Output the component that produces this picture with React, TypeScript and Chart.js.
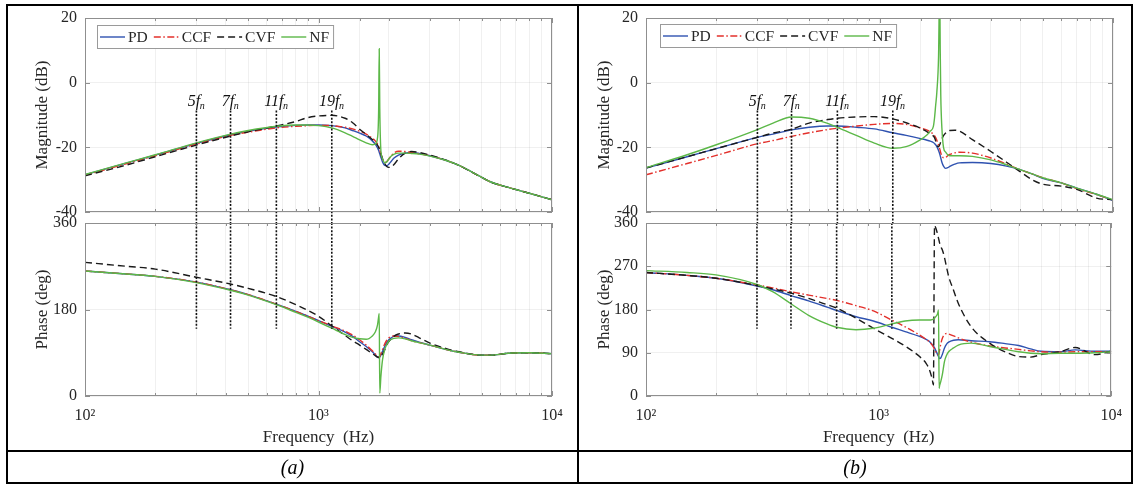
import React, { useEffect, useRef } from "react";
import { Chart, registerables } from "chart.js";

Chart.register(...registerables);

// ---------------- data ----------------
const SERIES = ["PD", "CCF", "CVF", "NF"];
const COLORS = ["#2f52b0", "#e3302b", "#1a1a1a", "#5cb848"];
const DASHES: number[][] = [[], [7, 2.5, 1.5, 2.5], [7, 4], []];

const HARMONIC_FREQ = [300, 420, 660, 1140];
const HARMONIC_ORDER = ["5", "7", "11", "19"];
const MARK_TOP_DB = -8.6;
const MARK_BOTTOM_DB = -43.4;
const MARK_BOTTOM_DEG = 140;

const X_TICK_VALUES = [100, 1000, 10000];
const X_TICK_LABELS = ["10\u00b2", "10\u00b3", "10\u2074"];
const MAG_RANGE = [-40, 20];
const MAG_STEP = 20;
const PHASE_RANGE = [0, 360];
const PHASE_STEP_A = 180;
const PHASE_STEP_B = 90;

const FREQ_A = [100, 150, 200, 300, 420, 500, 660, 800, 900, 1000,
  1140, 1300, 1400, 1500, 1600, 1700, 1750, 1790, 1810, 1820,
  1830, 1850, 1880, 1920, 1960, 2000, 2050, 2100, 2200, 2350,
  2500, 2700, 3000, 3500, 4000, 5000, 5500, 6500, 8000, 10000];

const MAG_A_PD = [-28.5, -24.9, -22.4, -18.8, -16.1, -15.0, -13.7, -13.2, -13.1, -13.1,
  -13.3, -14.0, -14.8, -15.6, -16.5, -18.0, -19.0, -20.2, -21.0, -21.5,
  -22.0, -23.1, -24.5, -25.6, -25.7, -25.2, -24.3, -23.4, -22.4, -21.8,
  -21.6, -21.9, -22.6, -24.0, -25.6, -29.3, -30.8, -32.4, -34.2, -36.2];
const MAG_A_CCF = [-28.6, -25.1, -22.6, -19.0, -16.3, -15.3, -14.0, -13.5, -13.3, -13.2,
  -13.3, -13.8, -14.3, -15.0, -15.9, -17.2, -18.0, -19.0, -19.7, -20.2,
  -20.8, -22.0, -23.5, -24.5, -24.4, -23.6, -22.6, -21.8, -21.2, -21.3,
  -21.6, -22.0, -22.6, -24.0, -25.6, -29.3, -30.8, -32.4, -34.2, -36.2];
const MAG_A_CVF = [-28.8, -25.5, -22.9, -19.3, -16.5, -15.2, -13.4, -12.0, -10.8, -10.3,
  -10.1, -11.0, -12.4, -14.4, -16.0, -17.6, -18.5, -19.3, -20.0, -20.4,
  -20.9, -22.0, -23.5, -25.0, -25.9, -26.2, -26.1, -25.4, -23.6, -21.8,
  -21.3, -21.6, -22.4, -23.9, -25.6, -29.3, -30.8, -32.4, -34.2, -36.2];
const MAG_A_NF = [-28.4, -24.8, -22.3, -18.6, -15.9, -14.8, -13.5, -13.1, -13.1, -13.3,
  -14.0, -15.5, -16.6, -17.7, -18.6, -19.2, -19.0, -17.0, -8.0, 10.5,
  -8.0, -21.0, -23.5, -24.8, -24.5, -23.6, -22.7, -22.2, -21.8, -21.8,
  -21.9, -22.1, -22.7, -24.0, -25.6, -29.3, -30.8, -32.4, -34.2, -36.2];

const PHASE_A_PD = [260, 254, 249, 237, 221, 211, 191, 176, 166, 157,
  145, 133, 124, 113, 103, 92, 86, 81, 80, 80,
  81, 85, 93, 103, 111, 117, 121, 124, 125, 122,
  117, 112, 106, 97, 91, 85, 85, 89, 90, 88];
const PHASE_A_CCF = [260, 254, 249, 237, 221, 211, 191, 176, 166, 157,
  146, 135, 127, 117, 106, 94, 88, 83, 81, 81,
  83, 88, 97, 108, 116, 121, 124, 125, 124, 120,
  115, 111, 106, 97, 91, 85, 85, 89, 90, 88];
const PHASE_A_CVF = [278, 270, 264, 247, 233, 224, 207, 190, 178, 166,
  146, 126, 115, 106, 97, 88, 84, 81, 80, 80,
  80, 82, 87, 96, 106, 113, 119, 124, 129, 131,
  129, 121, 110, 99, 92, 85, 85, 89, 90, 88];
const PHASE_A_NF = [260, 254, 249, 236, 220, 210, 190, 174, 164, 154,
  141, 128, 122, 119, 118, 125, 133, 148, 165, 172,
  6, 40, 75, 96, 107, 114, 118, 120, 121, 119,
  115, 111, 106, 97, 91, 85, 85, 89, 90, 88];

const FREQ_B = [100, 150, 200, 300, 350, 420, 500, 600, 660, 800,
  950, 1140, 1300, 1500, 1600, 1650, 1700, 1720, 1740, 1760,
  1790, 1810, 1820, 1830, 1850, 1880, 1920, 1960, 2000, 2100,
  2200, 2500, 3000, 3500, 4000, 4500, 5000, 6000, 7000, 8500,
  10000];

const MAG_B_PD = [-26.4, -22.9, -20.4, -16.9, -15.9, -14.6, -13.8, -13.4, -13.4, -13.8,
  -14.3, -15.5, -16.3, -17.3, -17.8, -18.1, -18.5, -18.8, -19.2, -19.8,
  -21.0, -22.0, -22.6, -23.3, -24.6, -25.8, -26.5, -26.3, -25.9, -25.2,
  -24.8, -24.7, -25.0, -25.8, -26.9, -28.2, -29.6, -31.0, -32.6, -34.5,
  -36.4];
const MAG_B_CCF = [-28.5, -25.0, -22.5, -18.9, -17.9, -16.6, -15.5, -14.5, -14.1, -13.4,
  -12.9, -12.6, -12.9, -14.0, -14.7, -15.2, -15.9, -16.4, -17.0, -17.8,
  -19.3, -20.4, -21.0, -21.7, -22.7, -23.2, -23.1, -22.6, -22.2, -21.7,
  -21.5, -21.8, -23.3, -25.2, -26.9, -28.2, -29.4, -31.0, -32.8, -34.6,
  -36.4];
const MAG_B_CVF = [-26.4, -22.9, -20.4, -16.9, -15.6, -14.4, -12.5, -11.4, -11.0, -10.6,
  -10.5, -11.2, -12.4, -14.1, -15.2, -15.8, -16.5, -17.0, -18.0, -19.3,
  -19.8, -19.2, -18.8, -18.3, -17.4, -16.4, -15.6, -15.1, -14.8, -14.7,
  -15.0, -17.6, -21.3, -24.6, -27.5, -30.0, -31.4, -32.0, -33.0, -35.7,
  -36.2];
const MAG_B_NF = [-26.3, -22.3, -19.2, -14.5, -12.5, -10.6, -11.0, -12.6, -13.8, -16.4,
  -18.7, -20.3, -19.8, -17.6, -16.1, -15.0, -13.6, -11.0, -7.0, -3.0,
  8.0, 30.0, 10.0, -4.0, -14.0, -20.0, -21.5, -22.3, -22.6, -22.6,
  -22.6, -22.8, -23.9, -25.4, -26.9, -28.2, -29.4, -31.0, -32.6, -34.5,
  -36.2];

const PHASE_B_PD = [257, 251, 245, 229, 221, 209, 198, 185, 178, 165,
  156, 143, 134, 124, 118, 114, 107, 104, 100, 95,
  87, 82, 79, 78, 79, 87, 100, 108, 112, 116,
  117, 115, 113, 109, 105, 98, 93, 92, 96, 93,
  93];
const PHASE_B_CCF = [257, 251, 245, 231, 225, 217, 210, 203, 199, 188,
  177, 158, 144, 127, 118, 113, 106, 102, 97, 92,
  86, 86, 90, 96, 108, 120, 128, 130, 129, 125,
  121, 112, 104, 100, 97, 94, 92, 91, 92, 92,
  92];
const PHASE_B_CVF = [257, 251, 245, 230, 223, 214, 203, 190, 183, 162,
  141, 120, 104, 82, 68, 56, 35, 23, 355, 350,
  338, 328, 323, 318, 311, 304, 288, 268, 249, 220,
  193, 144, 110, 92, 82, 81, 86, 92, 101, 86,
  93];
const PHASE_B_NF = [261, 257, 252, 232, 217, 192, 168, 150, 143, 138,
  141, 150, 156, 158, 158, 158, 159, 160, 162, 165,
  170, 179, 16, 22, 30, 45, 72, 85, 92, 100,
  106, 110, 103, 97, 92, 89, 88, 89, 89, 90,
  92];

// ---------------- styling / layout ----------------
const FONT = '"Liberation Serif", "Times New Roman", serif';
const TEXT_COLOR = "#262626";
const GRID_COLOR = "rgba(0,0,0,0.06)";
const FRAME_COLOR = "#8f8f8f";

const PANELS: Record<string, any> = {
  a: { left: 8, width: 568, padLeft: 24, yWidth: 53, padRight: 24, legend: [12, 7] },
  b: { left: 580, width: 552, padLeft: 14, yWidth: 52, padRight: 19, legend: [14, 6] },
};
const ROWS: Record<string, any> = {
  mag: { top: 0, height: 232, padTop: 18, padBottom: 20, xHeight: 0 },
  phase: { top: 200, height: 250, padTop: 23, padBottom: 0, xHeight: 54 },
};

function isDecade(v: number) {
  const l = Math.log10(v);
  return Math.abs(l - Math.round(l)) < 1e-6;
}

function drawLegend(ctx: CanvasRenderingContext2D, x0: number, y0: number) {
  ctx.save();
  ctx.font = `15.5px ${FONT}`;
  const widths = SERIES.map((s) => ctx.measureText(s).width);
  const lineLen = 25, gapLT = 3, gapItem = 6, padL = 3, padR = 4, h = 23;
  let total = padL + padR + gapItem * (SERIES.length - 1);
  SERIES.forEach((_, i) => (total += lineLen + gapLT + widths[i]));
  ctx.fillStyle = "#ffffff";
  ctx.fillRect(x0, y0, total, h);
  ctx.strokeStyle = "#9a9a9a";
  ctx.lineWidth = 1;
  ctx.strokeRect(x0 + 0.5, y0 + 0.5, total, h);
  let x = x0 + padL;
  const cy = y0 + h / 2 + 0.5;
  SERIES.forEach((s, i) => {
    ctx.beginPath();
    ctx.setLineDash(DASHES[i]);
    ctx.strokeStyle = COLORS[i];
    ctx.lineWidth = 1.4;
    ctx.moveTo(x, cy);
    ctx.lineTo(x + lineLen, cy);
    ctx.stroke();
    ctx.setLineDash([]);
    x += lineLen + gapLT;
    ctx.fillStyle = TEXT_COLOR;
    ctx.textBaseline = "middle";
    ctx.textAlign = "left";
    ctx.fillText(s, x, cy + 1);
    x += widths[i] + gapItem;
  });
  ctx.restore();
}

const bodePlugin = {
  id: "bode",
  afterDraw(chart: any) {
    const opts = chart.options.plugins.bode || {};
    const { ctx, chartArea: a, scales } = chart;
    const xs = scales.x, ys = scales.y;
    ctx.save();
    // frame
    ctx.strokeStyle = FRAME_COLOR;
    ctx.lineWidth = 1;
    ctx.strokeRect(Math.round(a.left) + 0.5, Math.round(a.top) + 0.5,
      Math.round(a.right - a.left) - 1, Math.round(a.bottom - a.top) - 1);
    // inward ticks
    ctx.beginPath();
    xs.ticks.forEach((t: any) => {
      const px = Math.round(xs.getPixelForValue(t.value)) + 0.5;
      const len = isDecade(t.value) ? 5 : 3;
      ctx.moveTo(px, a.top); ctx.lineTo(px, a.top + len);
      ctx.moveTo(px, a.bottom); ctx.lineTo(px, a.bottom - len);
    });
    ys.ticks.forEach((t: any) => {
      const py = Math.round(ys.getPixelForValue(t.value)) + 0.5;
      ctx.moveTo(a.left, py); ctx.lineTo(a.left + 5, py);
      ctx.moveTo(a.right, py); ctx.lineTo(a.right - 5, py);
    });
    ctx.stroke();
    ctx.restore();

    if (opts.legend) drawLegend(ctx, a.left + opts.legend[0], a.top + opts.legend[1]);

    if (opts.harmonicLabels) {
      ctx.save();
      const baseY = ys.getPixelForValue(MARK_TOP_DB) - 4;
      HARMONIC_FREQ.forEach((f, i) => {
        const px = xs.getPixelForValue(f);
        const main = HARMONIC_ORDER[i] + "f";
        ctx.font = `italic 16px ${FONT}`;
        const w1 = ctx.measureText(main).width;
        ctx.font = `italic 10px ${FONT}`;
        const w2 = ctx.measureText("n").width;
        const x = px - (w1 + w2) / 2;
        ctx.fillStyle = "#111";
        ctx.textBaseline = "alphabetic";
        ctx.textAlign = "left";
        ctx.font = `italic 16px ${FONT}`;
        ctx.fillText(main, x, baseY);
        ctx.font = `italic 10px ${FONT}`;
        ctx.fillText("n", x + w1 - 0.5, baseY + 3);
      });
      ctx.restore();
    }
  },
};

function seriesDatasets(freq: number[], values: number[][]) {
  return values.map((vals, i) => ({
    label: SERIES[i],
    data: freq.map((f, j) => ({ x: f, y: vals[j] })),
    borderColor: COLORS[i],
    backgroundColor: COLORS[i],
    borderWidth: 1.4,
    borderDash: DASHES[i],
    pointRadius: 0,
    cubicInterpolationMode: "monotone",
    fill: false,
    order: SERIES.length - i,
  }));
}

function markerDatasets(top: number, bottom: number, noClip: boolean) {
  return HARMONIC_FREQ.map((f) => ({
    label: "",
    data: [{ x: f, y: top }, { x: f, y: bottom }],
    borderColor: "#111",
    borderWidth: 1.6,
    borderDash: [2, 1.6],
    pointRadius: 0,
    fill: false,
    order: 0,
    ...(noClip ? { clip: false } : {}),
  }));
}

function buildConfig(panel: "a" | "b", kind: "mag" | "phase"): any {
  const P = PANELS[panel];
  const R = ROWS[kind];
  const isMag = kind === "mag";
  const freq = panel === "a" ? FREQ_A : FREQ_B;
  const values = panel === "a"
    ? (isMag ? [MAG_A_PD, MAG_A_CCF, MAG_A_CVF, MAG_A_NF] : [PHASE_A_PD, PHASE_A_CCF, PHASE_A_CVF, PHASE_A_NF])
    : (isMag ? [MAG_B_PD, MAG_B_CCF, MAG_B_CVF, MAG_B_NF] : [PHASE_B_PD, PHASE_B_CCF, PHASE_B_CVF, PHASE_B_NF]);
  const markers = isMag
    ? markerDatasets(MARK_TOP_DB, MARK_BOTTOM_DB, true)
    : markerDatasets(PHASE_RANGE[1], MARK_BOTTOM_DEG, false);
  const range = isMag ? MAG_RANGE : PHASE_RANGE;
  const step = isMag ? MAG_STEP : panel === "a" ? PHASE_STEP_A : PHASE_STEP_B;
  return {
    type: "line",
    data: { datasets: [...seriesDatasets(freq, values), ...markers] },
    options: {
      responsive: false,
      animation: false,
      devicePixelRatio: 1,
      events: [],
      layout: { padding: { left: P.padLeft, right: P.padRight, top: R.padTop, bottom: R.padBottom } },
      plugins: {
        legend: { display: false },
        tooltip: { enabled: false },
        bode: { legend: isMag ? P.legend : null, harmonicLabels: isMag },
      },
      scales: {
        x: {
          type: "logarithmic",
          min: X_TICK_VALUES[0],
          max: X_TICK_VALUES[X_TICK_VALUES.length - 1],
          position: "bottom",
          grid: { color: GRID_COLOR, drawTicks: false },
          border: { display: false },
          ticks: {
            display: !isMag,
            autoSkip: false,
            maxRotation: 0,
            padding: 10,
            color: TEXT_COLOR,
            font: { family: FONT, size: 16 },
            callback: (v: number) => {
              const idx = X_TICK_VALUES.findIndex((t) => Math.abs(t - v) < 1e-6 * t);
              return idx >= 0 ? X_TICK_LABELS[idx] : "";
            },
          },
          title: {
            display: !isMag,
            text: "Frequency  (Hz)",
            color: TEXT_COLOR,
            font: { family: FONT, size: 17 },
            padding: { top: 0, bottom: 2 },
          },
          afterFit: (s: any) => { s.height = R.xHeight; },
        },
        y: {
          type: "linear",
          min: range[0],
          max: range[1],
          position: "left",
          grid: { color: GRID_COLOR, drawTicks: false },
          border: { display: false },
          ticks: {
            stepSize: step,
            padding: 8,
            color: TEXT_COLOR,
            font: { family: FONT, size: 16 },
            callback: (v: number) => String(v),
          },
          title: {
            display: true,
            text: isMag ? "Magnitude (dB)" : "Phase (deg)",
            color: TEXT_COLOR,
            font: { family: FONT, size: 17 },
            padding: { top: 0, bottom: 0 },
          },
          afterFit: (s: any) => { s.width = P.yWidth; },
        },
      },
    },
    plugins: [bodePlugin],
  };
}

function BodeCanvas({ panel, kind }: { panel: "a" | "b"; kind: "mag" | "phase" }) {
  const ref = useRef<HTMLCanvasElement>(null);
  const P = PANELS[panel];
  const R = ROWS[kind];
  useEffect(() => {
    const chart = new Chart(ref.current as HTMLCanvasElement, buildConfig(panel, kind));
    return () => chart.destroy();
  }, [panel, kind]);
  return (
    <canvas
      ref={ref}
      width={P.width}
      height={R.height}
      style={{ position: "absolute", left: P.left, top: R.top, width: P.width, height: R.height }}
    />
  );
}

const line = (left: number, top: number, width: number, height: number) => (
  <div style={{ position: "absolute", left, top, width, height, background: "#000" }} />
);

export default function App() {
  return (
    <div style={{ position: "absolute", left: 0, top: 0, width: 1134, height: 485, background: "#fff", overflow: "hidden" }}>
      <BodeCanvas panel="a" kind="mag" />
      <BodeCanvas panel="a" kind="phase" />
      <BodeCanvas panel="b" kind="mag" />
      <BodeCanvas panel="b" kind="phase" />
      {line(6, 4, 1127, 2)}
      {line(6, 4, 2, 480)}
      {line(577, 4, 2, 480)}
      {line(1131, 4, 2, 480)}
      {line(6, 450, 1127, 2)}
      {line(6, 482, 1127, 2)}
      <div style={{ position: "absolute", left: 8, top: 452, width: 569, height: 30, display: "flex", alignItems: "center", justifyContent: "center", fontFamily: FONT, fontStyle: "italic", fontSize: 20 }}>(a)</div>
      <div style={{ position: "absolute", left: 579, top: 452, width: 552, height: 30, display: "flex", alignItems: "center", justifyContent: "center", fontFamily: FONT, fontStyle: "italic", fontSize: 20 }}>(b)</div>
    </div>
  );
}
